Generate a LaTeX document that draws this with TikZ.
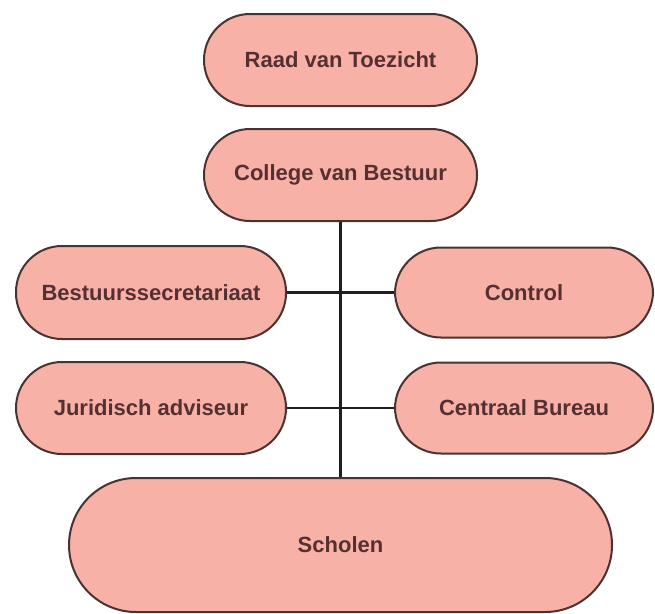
\documentclass[tikz,border=0pt]{standalone}
\usepackage{fontspec}
\setmainfont{Liberation Sans}
\definecolor{boxfill}{HTML}{F8B1A7}
\definecolor{boxline}{HTML}{4A3232}
\definecolor{boxtext}{HTML}{553032}
\definecolor{conn}{HTML}{1E1E1E}
\begin{document}
\begin{tikzpicture}[x=1pt,y=1pt,
  orgbox/.style={draw=boxline, fill=boxfill, line width=2pt, rounded corners=46pt,
    minimum width=270pt, minimum height=92pt, inner sep=0pt,
    text=boxtext, font=\fontsize{22}{24}\selectfont\bfseries},
  link/.style={draw=conn, line width=2.2pt}]
\useasboundingbox (0,0) rectangle (655,-613);
\node[orgbox, minimum width=273pt] (raad) at (340.5,-60) {Raad van Toezicht};
\node[orgbox, minimum width=273pt] (college) at (340.5,-175) {College van Bestuur};
\node[orgbox, minimum height=93pt] (bsec) at (151,-292.5) {Bestuurssecretariaat};
\node[orgbox, minimum width=258pt, minimum height=90pt] (control) at (524,-292.5) {Control};
\node[orgbox] (jur) at (151,-408) {Juridisch adviseur};
\node[orgbox, minimum width=258pt, minimum height=91pt] (cb) at (524,-408) {Centraal Bureau};
\node[orgbox, minimum width=543pt, minimum height=134pt, rounded corners=67pt] (scholen) at (340.5,-545) {Scholen};
\draw[link] (college) -- (scholen);
\draw[link] (bsec) -- (control);
\draw[link] (jur) -- (cb);
\end{tikzpicture}
\end{document}
